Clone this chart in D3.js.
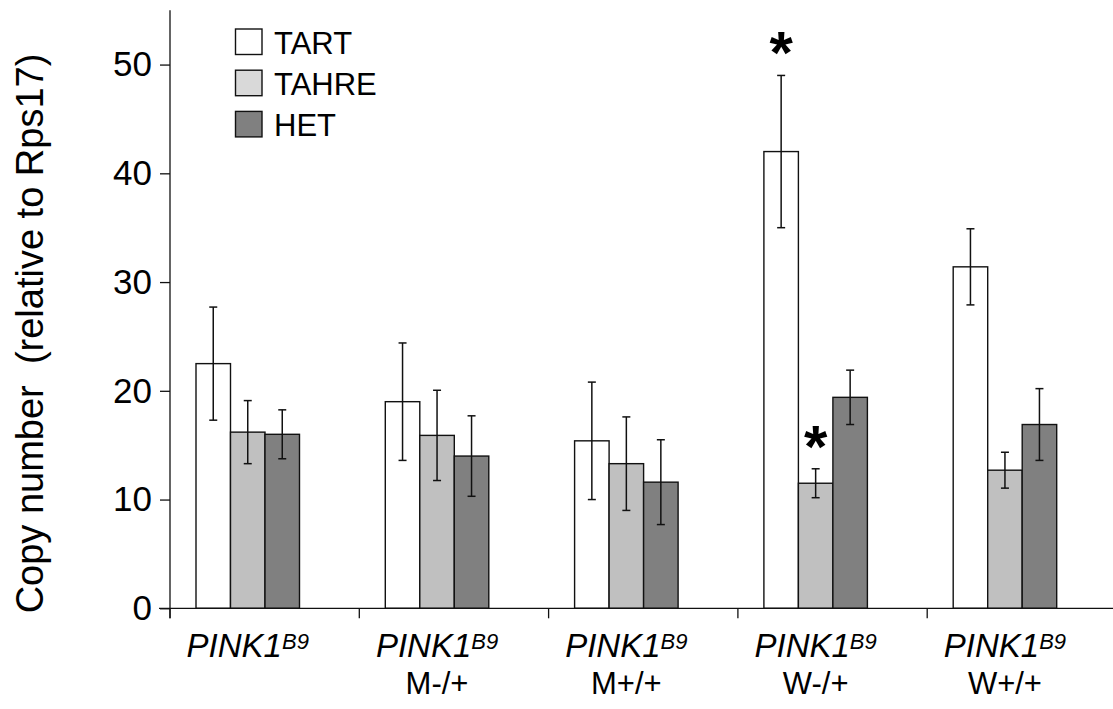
<!DOCTYPE html>
<html>
<head>
<meta charset="utf-8">
<script src="https://cdn.jsdelivr.net/npm/d3@7/dist/d3.min.js"></script>
<style>
  html, body { margin: 0; padding: 0; background: #fff; }
  svg { display: block; font-family: "Liberation Sans", Arial, sans-serif; }
</style>
</head>
<body>
<svg id="chart" width="1113" height="709"></svg>
<script>
// ---- data ----
const categories = ["g1", "g2", "g3", "g4", "g5"];
const labelMain = ["PINK1", "PINK1", "PINK1", "PINK1", "PINK1"];
const labelSup = ["B9", "B9", "B9", "B9", "B9"];
const labelLine2 = ["", "M-/+", "M+/+", "W-/+", "W+/+"];
const series = ["TART", "TAHRE", "HET"];
const tartValues  = [22.5, 19.0, 15.4, 42.0, 31.4];
const tartErrors  = [5.2, 5.4, 5.4, 7.0, 3.5];
const tahreValues = [16.2, 15.9, 13.3, 11.5, 12.7];
const tahreErrors = [2.9, 4.15, 4.3, 1.33, 1.65];
const hetValues   = [16.0, 14.0, 11.6, 19.4, 16.9];
const hetErrors   = [2.25, 3.7, 3.9, 2.5, 3.3];
const yTicks = [0, 10, 20, 30, 40, 50];
const significant = [["g4", "TART"], ["g4", "TAHRE"]];

const valuesBySeries = { TART: tartValues, TAHRE: tahreValues, HET: hetValues };
const errorsBySeries = { TART: tartErrors, TAHRE: tahreErrors, HET: hetErrors };
const fillBySeries = { TART: "#ffffff", TAHRE: "#c0c0c0", HET: "#808080" };
const legendFill = { TART: "#ffffff", TAHRE: "#d9d9d9", HET: "#808080" };

const svg = d3.select("#chart");
const step = 189.3;
const x0 = d3.scaleBand().domain(categories).range([170, 170 + step * categories.length]).padding(0);
const x1 = d3.scaleBand().domain(series).range([0, x0.bandwidth()])
  .paddingInner(0).paddingOuter(1.2435).align(0.303);
const y = d3.scaleLinear().domain([0, 55]).range([608.3, 10.2]);

const rows = [];
categories.forEach((c, i) => {
  series.forEach(s => {
    rows.push({ cat: c, s, v: valuesBySeries[s][i], e: errorsBySeries[s][i] });
  });
});

// bars
svg.append("g").selectAll("rect").data(rows).join("rect")
  .attr("x", d => x0(d.cat) + x1(d.s))
  .attr("y", d => y(d.v))
  .attr("width", x1.bandwidth())
  .attr("height", d => y(0) - y(d.v))
  .attr("fill", d => fillBySeries[d.s])
  .attr("stroke", "#111")
  .attr("stroke-width", 1.4);

// error bars
const eg = svg.append("g").attr("stroke", "#111").attr("stroke-width", 1.5);
rows.forEach(d => {
  const cx = x0(d.cat) + x1(d.s) + x1.bandwidth() / 2;
  eg.append("line").attr("x1", cx).attr("x2", cx).attr("y1", y(d.v + d.e)).attr("y2", y(d.v - d.e));
  eg.append("line").attr("x1", cx - 4).attr("x2", cx + 4).attr("y1", y(d.v + d.e)).attr("y2", y(d.v + d.e));
  eg.append("line").attr("x1", cx - 4).attr("x2", cx + 4).attr("y1", y(d.v - d.e)).attr("y2", y(d.v - d.e));
});

// significance stars
const starFs = 60;
significant.forEach(([c, s]) => {
  const d = rows.find(r => r.cat === c && r.s === s);
  const cx = x0(c) + x1(s) + x1.bandwidth() / 2;
  svg.append("text")
    .attr("x", cx)
    .attr("y", y(d.v + d.e) - 38 + 0.6 * starFs)
    .attr("text-anchor", "middle")
    .attr("font-size", starFs)
    .attr("font-weight", "bold")
    .text("*");
});

// y axis
const yAxis = d3.axisLeft(y).tickValues(yTicks).tickSize(10).tickPadding(8).tickFormat(d3.format("d"));
const yg = svg.append("g").attr("transform", `translate(${x0.range()[0]},0)`).call(yAxis);
yg.select(".domain").attr("d", `M0,${y(55)}V${y(0) + 10}`).attr("stroke", "#111").attr("stroke-width", 1.3);
yg.selectAll(".tick line").attr("stroke", "#111").attr("stroke-width", 1.3);
yg.selectAll(".tick text").attr("font-size", 35).attr("fill", "#000")
  .attr("font-family", "'Liberation Sans', Arial, sans-serif");

// x axis line and ticks at category boundaries
const xg = svg.append("g").attr("stroke", "#111").attr("stroke-width", 1.3);
xg.append("line").attr("x1", 159).attr("x2", 1113).attr("y1", y(0)).attr("y2", y(0));
categories.forEach(c => {
  xg.append("line").attr("x1", x0(c)).attr("x2", x0(c)).attr("y1", y(0)).attr("y2", y(0) + 10);
});

// x labels
categories.forEach((c, i) => {
  const cx = x0(c) + x1("TAHRE") + x1.bandwidth() / 2;
  const t = svg.append("text")
    .attr("x", cx).attr("y", 657)
    .attr("text-anchor", "middle")
    .attr("font-size", 33)
    .attr("font-style", "italic");
  t.append("tspan").text(labelMain[i]);
  t.append("tspan").attr("font-size", 22).attr("dy", -8).text(labelSup[i]);
  if (labelLine2[i]) {
    svg.append("text")
      .attr("x", cx).attr("y", 694)
      .attr("text-anchor", "middle")
      .attr("font-size", 31)
      .text(labelLine2[i]);
  }
});

// y axis title
svg.append("text")
  .attr("transform", `translate(43, ${(620 + 47) / 2}) rotate(-90)`)
  .attr("text-anchor", "middle")
  .attr("font-size", 38)
  .text("Copy number  (relative to Rps17)")
  .style("white-space", "pre");

// legend
const lg = svg.append("g");
series.forEach((s, i) => {
  const gy = 29 + i * 41.2;
  lg.append("rect").attr("x", 235.5).attr("y", gy).attr("width", 26.5).attr("height", 25.5)
    .attr("fill", legendFill[s]).attr("stroke", "#111").attr("stroke-width", 1.4);
  lg.append("text").attr("x", 274).attr("y", gy + 25).attr("font-size", 31).text(s);
});
</script>
</body>
</html>
